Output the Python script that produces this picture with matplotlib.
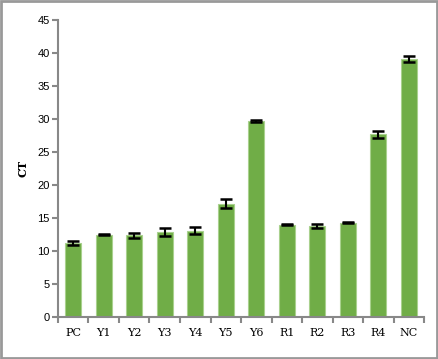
import numpy as np
import matplotlib

matplotlib.use("Agg")
import matplotlib.pyplot as plt
from matplotlib.patches import Rectangle

categories = ["PC", "Y1", "Y2", "Y3", "Y4", "Y5", "Y6", "R1", "R2", "R3", "R4", "NC"]
ct_values = [11.2, 12.5, 12.4, 12.9, 13.1, 17.2, 29.7, 14.0, 13.8, 14.3, 27.7, 39.1]
ct_errors = [0.3, 0.1, 0.4, 0.6, 0.5, 0.7, 0.15, 0.1, 0.3, 0.1, 0.55, 0.45]
y_ticks = [0, 5, 10, 15, 20, 25, 30, 35, 40, 45]

fig = plt.figure(figsize=(4.39, 3.59), dpi=100)
ax = fig.add_axes([0.132, 0.117, 0.834, 0.827])

x = np.arange(len(categories))
ax.bar(x, ct_values, width=0.52, color="#70AD47", edgecolor="#A9D18E", linewidth=0.8,
       yerr=ct_errors, error_kw=dict(ecolor="black", elinewidth=1.5, capsize=4, capthick=1.8),
       zorder=2)

ax.set_xlim(-0.5, len(categories) - 0.5)
ax.set_ylim(0, 45)
ax.set_yticks(y_ticks)
ax.set_yticklabels([str(v) for v in y_ticks], fontsize=8, family="Liberation Sans")
ax.set_xticks(x)
ax.set_xticklabels(categories, fontsize=8, family="DejaVu Serif")
ax.set_xticks(np.arange(-0.5, len(categories)), minor=True)
ax.tick_params(axis="x", which="major", length=0, pad=8)
ax.tick_params(axis="x", which="minor", length=4, width=1.5, color="#888888")
ax.tick_params(axis="y", length=4, width=1.5, color="#888888", pad=2)

for side in ("top", "right"):
    ax.spines[side].set_visible(False)
for side in ("left", "bottom"):
    ax.spines[side].set_color("#888888")
    ax.spines[side].set_linewidth(1.5)

ax.set_ylabel("CT", fontsize=8, fontweight="bold", family="DejaVu Serif", labelpad=6)

fig.patches.append(Rectangle((0.002, 0.004), 0.993, 0.992, transform=fig.transFigure,
                             fill=False, edgecolor="#999999", linewidth=2))

fig.savefig("out.png", dpi=100)
